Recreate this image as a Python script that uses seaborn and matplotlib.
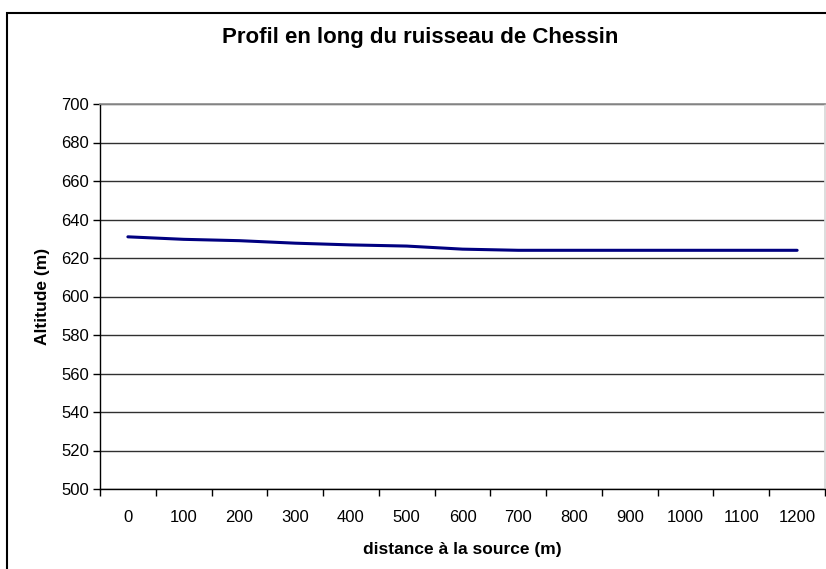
import matplotlib
matplotlib.use("Agg")
import matplotlib.pyplot as plt
import seaborn as sns
import pandas as pd
from matplotlib.patches import Rectangle

# données
distances = ["0", "100", "200", "300", "400", "500", "600",
             "700", "800", "900", "1000", "1100", "1200"]
altitudes = [631.0, 629.7, 629.0, 627.7, 626.8, 626.2, 624.6,
             624.0, 624.0, 624.0, 624.0, 624.0, 624.0]

df = pd.DataFrame({"pos": range(len(distances)), "altitude": altitudes})

sns.set_theme(style="white")
plt.rcParams["font.family"] = ["Liberation Sans", "DejaVu Sans"]

fig = plt.figure(figsize=(8.26, 5.69), dpi=100)
ax = fig.add_axes([100 / 826, 1 - 489 / 569, 725 / 826, 385 / 569])

sns.lineplot(data=df, x="pos", y="altitude", ax=ax, color="#000080",
             linewidth=2.2, legend=False)

ax.set_ylim(500, 700)
ax.set_yticks(range(500, 701, 20))
ax.set_xlim(-0.5, len(distances) - 0.5)
ax.set_xticks(range(len(distances)))
ax.set_xticklabels(distances)
ax.set_xticks([i - 0.5 for i in range(len(distances) + 1)], minor=True)

ax.yaxis.grid(True, color="#303030", linewidth=1.0)
ax.set_axisbelow(True)
ax.tick_params(axis="y", which="major", left=True, length=5, width=1,
               color="black", labelsize=12, pad=3, labelcolor="black")
ax.tick_params(axis="x", which="major", bottom=False, labelsize=12,
               pad=9, labelcolor="black")
ax.tick_params(axis="x", which="minor", bottom=True, length=5, width=1,
               color="black")

for side in ["left", "bottom"]:
    ax.spines[side].set_color("black")
    ax.spines[side].set_linewidth(1.0)
ax.spines["top"].set_color("#909090")
ax.spines["right"].set_color("#d8d8d8")

ax.set_xlabel("distance à la source (m)", fontsize=12.5, fontweight="bold",
              labelpad=12.5, color="black")
ax.set_ylabel("Altitude (m)", fontsize=12.5, fontweight="bold",
              labelpad=8, color="black")

fig.text(420 / 826, 1 - 37 / 569,
         "Profil en long du ruisseau de Chessin",
         ha="center", va="center", fontsize=16, fontweight="bold",
         color="black")

# cadre de la zone de graphique
fig.patches.append(Rectangle((7 / 826, -0.2), 2, 1 - 13 / 569 + 0.2,
                             transform=fig.transFigure, fill=False,
                             edgecolor="black", linewidth=1.5))

fig.savefig("out.png", dpi=100)
